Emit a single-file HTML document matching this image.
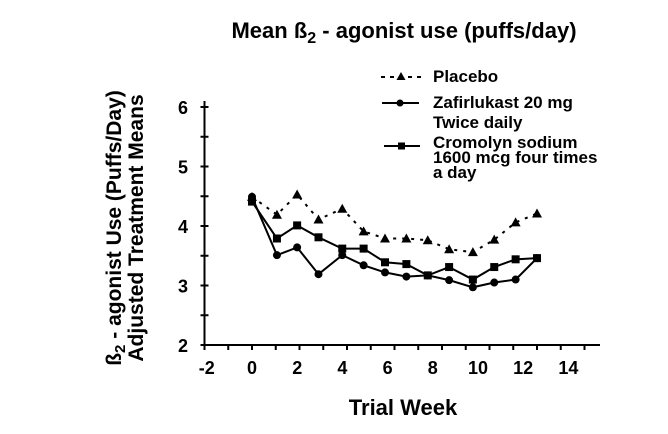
<!DOCTYPE html>
<html><head><meta charset="utf-8"><style>
body{margin:0;background:#fff;}
svg{display:block;font-family:"Liberation Sans",Arial,sans-serif;}
</style></head><body>
<svg id="chart" width="668" height="434" viewBox="0 0 668 434">
<text x="404" y="38" text-anchor="middle" font-size="22" font-weight="bold">Mean ß<tspan font-size="16" dy="5">2</tspan><tspan dy="-5"> - agonist use (puffs/day)</tspan></text>
<g transform="translate(121,228) rotate(-90)">
<text x="0" y="0" text-anchor="middle" font-size="21" font-weight="bold">ß<tspan font-size="15" dy="4">2</tspan><tspan dy="-4"> - agonist Use (Puffs/Day)</tspan></text>
<text x="0" y="22" text-anchor="middle" font-size="21" font-weight="bold">Adjusted Treatment Means</text>
</g>
<text x="403" y="415" text-anchor="middle" font-size="22" font-weight="bold">Trial Week</text>
<g id="axes"></g>
<g id="series"></g>
<g id="legend" font-size="17" font-weight="bold">
<g>
<line x1="381" y1="77" x2="422" y2="77" stroke="#000" stroke-width="2" stroke-dasharray="4,5"/>
<path d="M401,72 L405.5,80 L396.5,80Z" fill="#000"/>
<text x="433" y="82">Placebo</text></g>
<g>
<line x1="382" y1="103" x2="419" y2="103" stroke="#000" stroke-width="2"/>
<circle cx="400" cy="103" r="3.5" fill="#000"/>
<text x="433" y="108">Zafirlukast 20 mg</text><text x="433" y="128">Twice daily</text></g>
<g>
<line x1="384" y1="146" x2="420" y2="146" stroke="#000" stroke-width="2"/>
<rect x="398" y="142.5" width="7" height="7" fill="#000"/>
<text x="433" y="148">Cromolyn sodium</text><text x="433" y="163">1600 mcg four times</text><text x="433" y="178">a day</text></g>
</g>
</svg>
<script>
const weeks=[0,1.05,1.9,2.8,3.8,4.7,5.6,6.5,7.4,8.3,9.3,10.2,11.1,12.0];
const placebo=[4.49,4.19,4.53,4.11,4.29,3.91,3.79,3.79,3.76,3.61,3.56,3.77,4.06,4.21];
const zafirlukast=[4.49,3.51,3.64,3.19,3.51,3.34,3.22,3.15,3.17,3.09,2.97,3.05,3.10,3.46];
const cromolyn=[4.41,3.79,4.01,3.81,3.62,3.62,3.39,3.36,3.17,3.31,3.10,3.31,3.44,3.46];
const xTickLabels=[-2,0,2,4,6,8,10,12,14];
const yTickLabels=[2,3,4,5,6];
const NS="http://www.w3.org/2000/svg";
function xs(v){return 252+v*23.75;}
function xl(v){return 252+v*22.6;}
function ys(v){return 345-(v-2)*59.5;}
function mk(tag,attrs,parent){const e=document.createElementNS(NS,tag);for(const k in attrs)e.setAttribute(k,attrs[k]);parent.appendChild(e);return e;}
const axes=document.getElementById('axes');
let a=mk('line',{x1:xs(-2),y1:ys(2),x2:600,y2:ys(2),stroke:'#000','stroke-width':2},axes);


a=mk('line',{x1:xs(-2),y1:ys(6.1),x2:xs(-2),y2:ys(2),stroke:'#000','stroke-width':2},axes);


for(let v=-2;v<=14;v++){mk('line',{x1:xs(v),y1:ys(2),x2:xs(v),y2:ys(2)+5,stroke:'#000','stroke-width':2},axes);}
for(let v=2;v<=6;v+=0.5){mk('line',{x1:xs(-2)-4,y1:ys(v),x2:xs(-2)+4,y2:ys(v),stroke:'#000','stroke-width':2},axes);}
xTickLabels.forEach(v=>{const t=mk('text',{x:xl(v),y:374,'text-anchor':'middle','font-size':18,'font-weight':'bold'},axes);t.textContent=v;

});
yTickLabels.forEach(v=>{const t=mk('text',{x:183,y:ys(v)+7,'text-anchor':'middle','font-size':18,'font-weight':'bold'},axes);t.textContent=v;

});
const sg=document.getElementById('series');
function series(vals,name,dash,marker){
const g=mk('g',{},sg);


const pts=vals.map((v,i)=>xs(weeks[i])+','+ys(v)).join(' ');
const attrs={points:pts,fill:'none',stroke:'#000','stroke-width':2};
if(dash)attrs['stroke-dasharray']=dash;
mk('polyline',attrs,g);
vals.forEach((v,i)=>{const x=xs(weeks[i]),y=ys(v);let m;
if(marker==='tri')m=mk('path',{d:`M${x},${y-5} L${x+5},${y+4} L${x-5},${y+4}Z`,fill:'#000'},g);
else if(marker==='circ')m=mk('circle',{cx:x,cy:y,r:4,fill:'#000'},g);
else m=mk('rect',{x:x-4,y:y-4,width:8,height:8,fill:'#000'},g);

});
}
series(placebo,'placebo-series','3,6','tri');
series(cromolyn,'cromolyn-series',null,'sq');
series(zafirlukast,'zafirlukast-series',null,'circ');
</script>
</body></html>
